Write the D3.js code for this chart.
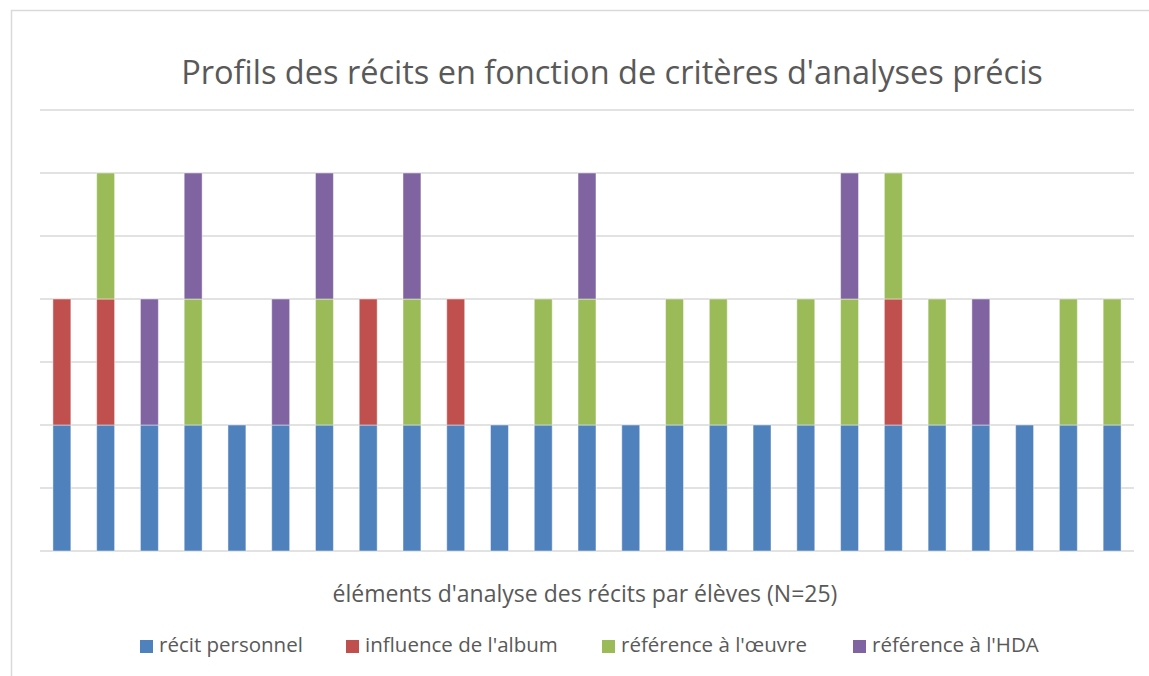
<!DOCTYPE html>
<html>
<head>
<meta charset="utf-8">
<script src="https://cdn.jsdelivr.net/npm/d3@7"></script>
<style>
  body { margin: 0; background: #fff; }
  text { font-family: "Open Sans", "Liberation Sans", sans-serif; fill: #595959; }
</style>
</head>
<body>
<div id="chart"></div>
<script>
// students 1..25 (no tick labels are shown on the axis)
const students = d3.range(1, 26).map(String);

// one value per student for each criterion
const recitPersonnel = [1,1,1,1,1,1,1,1,1,1,1,1,1,1,1,1,1,1,1,1,1,1,1,1,1];
const influenceAlbum = [1,1,0,0,0,0,0,1,0,1,0,0,0,0,0,0,0,0,0,1,0,0,0,0,0];
const referenceOeuvre = [0,1,0,1,0,0,1,0,1,0,0,1,1,0,1,1,0,1,1,1,1,0,0,1,1];
const referenceHDA   = [0,0,1,1,0,1,1,0,1,0,0,0,1,0,0,0,0,0,1,0,0,1,0,0,0];

const seriesNames = ["récit personnel", "influence de l'album", "référence à l'œuvre", "référence à l'HDA"];
const seriesColors = ["#4F81BD", "#C0504D", "#9BBB59", "#8064A2"];

const width = 1149, height = 676;
const margin = { left: 40, right: 15, top: 110, bottom: 125 };

const svg = d3.select('#chart').append('svg')
  .attr('width', width)
  .attr('height', height);

// chart frame
svg.append('rect')
  .attr('x', 11.5).attr('y', 10.5)
  .attr('width', 1160).attr('height', 700)
  .attr('fill', 'none')
  .attr('stroke', '#d9d9d9')
  .attr('stroke-width', 1.5);

// build table for the stack
const table = students.map((s, i) => ({
  student: s,
  [seriesNames[0]]: recitPersonnel[i],
  [seriesNames[1]]: influenceAlbum[i],
  [seriesNames[2]]: referenceOeuvre[i],
  [seriesNames[3]]: referenceHDA[i]
}));
const stacked = d3.stack().keys(seriesNames)(table);

const x = d3.scaleBand()
  .domain(students)
  .range([margin.left, width - margin.right])
  .paddingInner(0.59)
  .paddingOuter(0.295);

const y = d3.scaleLinear()
  .domain([0, 3.5])
  .range([height - margin.bottom, margin.top]);

const color = d3.scaleOrdinal().domain(seriesNames).range(seriesColors);

// gridlines
svg.append('g')
  .selectAll('line')
  .data(d3.range(0, 3.51, 0.5))
  .join('line')
  .attr('x1', margin.left)
  .attr('x2', width - margin.right)
  .attr('y1', d => y(d))
  .attr('y2', d => y(d))
  .attr('stroke', '#d9d9d9')
  .attr('stroke-width', 1.5);

// bars
svg.append('g')
  .selectAll('g')
  .data(stacked)
  .join('g')
  .attr('fill', d => color(d.key))
  .selectAll('rect')
  .data(d => d.filter(p => p[1] > p[0]))
  .join('rect')
  .attr('x', d => x(d.data.student))
  .attr('width', x.bandwidth())
  .attr('y', d => y(d[1]))
  .attr('height', d => y(d[0]) - y(d[1]))
  .attr('stroke', 'rgba(255,255,255,0.45)')
  .attr('stroke-width', 1);

// title
svg.append('text')
  .attr('x', 612)
  .attr('y', 84)
  .attr('text-anchor', 'middle')
  .style('font-size', '32.5px')
  .text('Profils des récits en fonction de critères d\'analyses précis');

// axis title
svg.append('text')
  .attr('x', 585)
  .attr('y', 602)
  .attr('text-anchor', 'middle')
  .style('font-size', '23px')
  .text('éléments d\'analyse des récits par élèves (N=25)');

// legend
const legendX = [140, 346, 602, 853];
const legend = svg.append('g')
  .selectAll('g')
  .data(seriesNames)
  .join('g')
  .attr('transform', (d, i) => `translate(${legendX[i]}, 640)`);

legend.append('rect')
  .attr('x', 0).attr('y', 0)
  .attr('width', 13).attr('height', 13)
  .attr('fill', d => color(d));

legend.append('text')
  .attr('x', 19)
  .attr('y', 12)
  .style('font-size', '20.5px')
  .text(d => d);
</script>
</body>
</html>
